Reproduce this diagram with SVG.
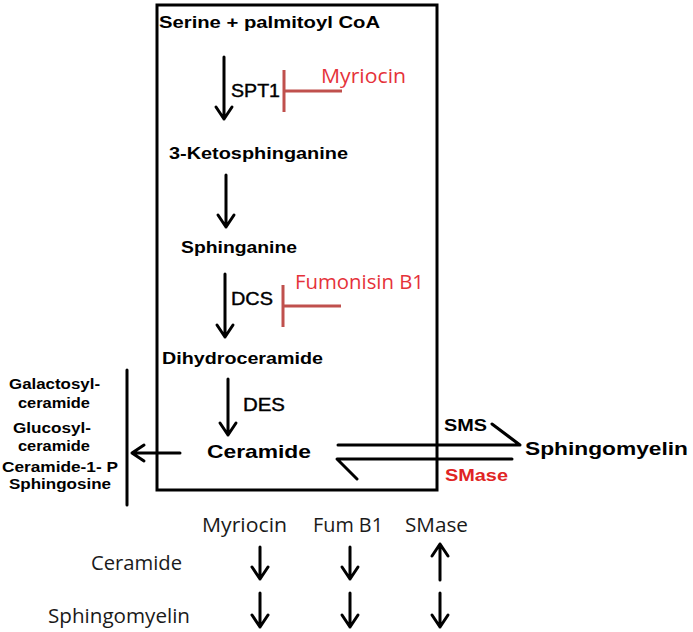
<svg xmlns="http://www.w3.org/2000/svg" width="693" height="632" viewBox="0 0 693 632">
<style>
.b{font-family:"Liberation Sans",Arial,sans-serif;font-weight:bold;fill:#000}
.m{font-family:"Liberation Sans",Arial,sans-serif;fill:#000;stroke:#000;stroke-width:0.4}
.r{font-family:"Open Sans","Noto Sans",sans-serif;fill:#e5323a}
.c{font-family:"Open Sans","Noto Sans",sans-serif;fill:#1a1a1a}
.ln{stroke:#000;stroke-width:3;fill:none;stroke-linecap:round;stroke-linejoin:round}
.inh{stroke:#c0504d;stroke-width:3;fill:none}
</style>
<rect x="157" y="5" width="280" height="485" fill="none" stroke="#000" stroke-width="3"/>
<g id="serine"><text class="b" x="159" y="28" font-size="16.5" textLength="221" lengthAdjust="spacingAndGlyphs">Serine + palmitoyl CoA</text></g>
<g id="spt1"><text class="m" x="231" y="97" font-size="18" textLength="49" lengthAdjust="spacingAndGlyphs">SPT1</text></g>
<g id="myriocin"><text class="r" x="321" y="83" font-size="20" textLength="85" lengthAdjust="spacingAndGlyphs">Myriocin</text></g>
<g id="keto"><text class="b" x="169" y="159" font-size="16.5" textLength="179" lengthAdjust="spacingAndGlyphs">3-Ketosphinganine</text></g>
<g id="sphinganine"><text class="b" x="181" y="253" font-size="16.5" textLength="116" lengthAdjust="spacingAndGlyphs">Sphinganine</text></g>
<g id="dcs"><text class="m" x="231" y="305" font-size="18" textLength="42" lengthAdjust="spacingAndGlyphs">DCS</text></g>
<g id="fumonisin"><text class="r" x="295" y="289" font-size="20" textLength="129" lengthAdjust="spacingAndGlyphs">Fumonisin B1</text></g>
<g id="dihydroceramide"><text class="b" x="162" y="364" font-size="16.5" textLength="161" lengthAdjust="spacingAndGlyphs">Dihydroceramide</text></g>
<g id="des"><text class="m" x="243" y="411" font-size="18" textLength="42" lengthAdjust="spacingAndGlyphs">DES</text></g>
<g id="ceramide"><text class="b" x="207" y="458" font-size="19" textLength="104" lengthAdjust="spacingAndGlyphs">Ceramide</text></g>
<g id="sms"><text class="b" x="444" y="431" font-size="17" textLength="43" lengthAdjust="spacingAndGlyphs">SMS</text></g>
<g id="sphingomyelin"><text class="b" x="525" y="455" font-size="19" textLength="163" lengthAdjust="spacingAndGlyphs">Sphingomyelin</text></g>
<g id="smase"><text class="b" x="445" y="481" font-size="17" textLength="63" lengthAdjust="spacingAndGlyphs" style="fill:#e02424">SMase</text></g>
<g id="products">
<text class="b" x="9" y="389" font-size="14.5" textLength="91" lengthAdjust="spacingAndGlyphs">Galactosyl-</text>
<text class="b" x="18" y="408" font-size="14.5" textLength="72" lengthAdjust="spacingAndGlyphs">ceramide</text>
<text class="b" x="13" y="433" font-size="14.5" textLength="78" lengthAdjust="spacingAndGlyphs">Glucosyl-</text>
<text class="b" x="18" y="451" font-size="14.5" textLength="72" lengthAdjust="spacingAndGlyphs">ceramide</text>
<text class="b" x="2" y="472" font-size="14.5" textLength="116" lengthAdjust="spacingAndGlyphs">Ceramide-1- P</text>
<text class="b" x="9" y="489" font-size="14.5" textLength="102" lengthAdjust="spacingAndGlyphs">Sphingosine</text>
</g>
<g id="table">
<text class="c" x="202" y="532" font-size="20" textLength="85" lengthAdjust="spacingAndGlyphs">Myriocin</text>
<text class="c" x="313" y="532" font-size="20" textLength="70" lengthAdjust="spacingAndGlyphs">Fum B1</text>
<text class="c" x="405" y="532" font-size="20" textLength="63" lengthAdjust="spacingAndGlyphs">SMase</text>
<text class="c" x="91" y="570" font-size="20" textLength="91" lengthAdjust="spacingAndGlyphs">Ceramide</text>
<text class="c" x="48" y="623" font-size="20" textLength="142" lengthAdjust="spacingAndGlyphs">Sphingomyelin</text>
</g>
<g id="connectors">
<path class="ln" d="M224 57V119M216 107L224 119L232 107"/>
<path class="ln" d="M226 175V227M218 215L226 227L234 215"/>
<path class="ln" d="M225 274V337M217 325L225 337L233 325"/>
<path class="ln" d="M228 379V435M220 423L228 435L236 423"/>
<path class="ln" d="M180 453H132M144 445L132 453L144 461"/>
<path class="ln" d="M127 370V505"/>
<path class="ln" d="M338 445H520L492 424"/>
<path class="ln" d="M512 459H337L357 479"/>
<path class="inh" d="M284 70V112M284 91H342"/>
<path class="inh" d="M283 285V327M283 306H341"/>
<g stroke-width="3.5">
<path class="ln" stroke-width="3.5" d="M260 547V579M252 567L260 579L268 567"/>
<path class="ln" stroke-width="3.5" d="M350 547V579M342 567L350 579L358 567"/>
<path class="ln" stroke-width="3.5" d="M440 580V544M432 556L440 544L448 556"/>
<path class="ln" stroke-width="3.5" d="M260 593V627M252 615L260 627L268 615"/>
<path class="ln" stroke-width="3.5" d="M350 593V627M342 615L350 627L358 615"/>
<path class="ln" stroke-width="3.5" d="M440 593V627M432 615L440 627L448 615"/>
</g>
</g>
</svg>
